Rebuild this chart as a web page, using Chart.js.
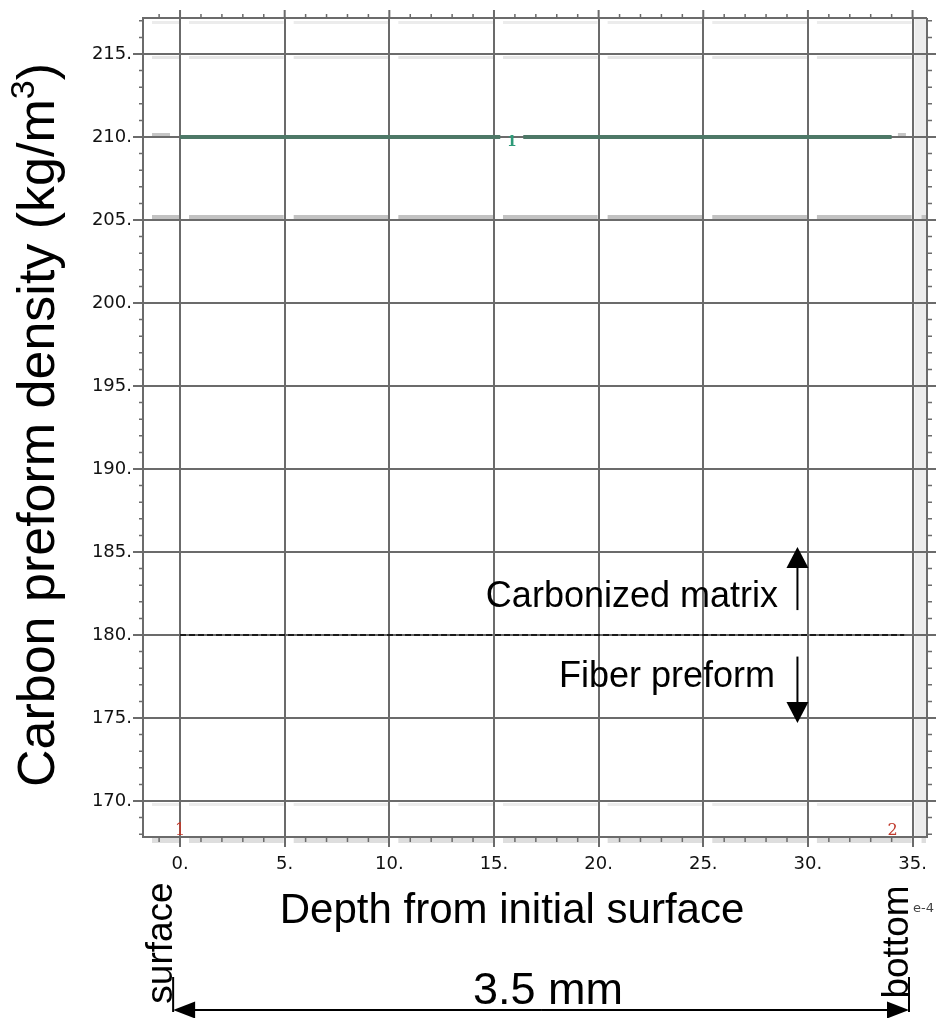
<!DOCTYPE html>
<html>
<head>
<meta charset="utf-8">
<script src="https://cdn.jsdelivr.net/npm/chart.js@4/dist/chart.umd.min.js"></script>
<style>
  html, body { margin: 0; padding: 0; background: #fff; }
  canvas { display: block; }
</style>
</head>
<body>
<canvas id="grafica" width="936" height="1018"></canvas>
<script>
/* ---------- Datos ---------- */
const depth = [0, 15.3, 15.8, 16.4, 34];        // profundidad (x 1e-4 m)
const density = [210, 210, null, 210, 210];     // densidad de la preforma (kg/m3); hueco en la etiqueta "1"
const limitDepth = [0, 34.6];
const limitDensity = [180, 180];                // frontera matriz carbonizada / preforma
const xTicks = [0, 5, 10, 15, 20, 25, 30, 35];
const yTicks = [170, 175, 180, 185, 190, 195, 200, 205, 210, 215];
const probeLabels = ['1', '2'];
const probeDepth = [0, 34.05];
const probeDensity = [168.2, 168.2];
const curveLabels = ['1'];
const curveLabelDepth = [15.86];
const curveLabelDensity = [209.7];

const X_MIN = -1.77, X_MAX = 35.69;
const Y_MIN = 167.83, Y_MAX = 217.17;

// anotaciones (en coordenadas de datos)
const arrowDepth = 29.5;
const upArrow = [181.5, 185.3];
const downArrow = [178.7, 174.7];
const zoneLabels = ['Carbonized matrix', 'Fiber preform'];
const zoneLabelDepth = [28.57, 28.43];
const zoneLabelDensity = [181.69, 176.87];
const spanStart = -0.33, spanEnd = 34.83;

const GRID = '#6b6b6b';
const SANS = '"Liberation Sans", Arial, sans-serif';

function flecha(ctx, x1, y1, x2, y2, largo, semi) {
  const ang = Math.atan2(y2 - y1, x2 - x1);
  ctx.beginPath();
  ctx.moveTo(x1, y1);
  ctx.lineTo(x2 - Math.cos(ang) * largo * 0.8, y2 - Math.sin(ang) * largo * 0.8);
  ctx.stroke();
  ctx.beginPath();
  ctx.moveTo(x2, y2);
  ctx.lineTo(x2 - Math.cos(ang) * largo - Math.sin(ang) * semi, y2 - Math.sin(ang) * largo + Math.cos(ang) * semi);
  ctx.lineTo(x2 - Math.cos(ang) * largo + Math.sin(ang) * semi, y2 - Math.sin(ang) * largo - Math.cos(ang) * semi);
  ctx.closePath();
  ctx.fill();
}

/* ---------- Plugin: bandas grises, marcas menores y textos ---------- */
const decor = {
  id: 'decor',
  beforeDraw(chart) {
    const { ctx, chartArea: a, scales: { x, y } } = chart;
    ctx.save();
    // franja clara entre la linea de 35 y el borde derecho
    const x35 = x.getPixelForValue(35);
    ctx.fillStyle = '#ececec';
    ctx.fillRect(x35 + 2, a.top, a.right - x35 - 3, a.bottom - a.top);
    // bandas horizontales (sombra de la rejilla)
    const cols = [a.left, ...xTicks.map(v => x.getPixelForValue(v)), a.right];
    const banda = (py, h, color) => {
      ctx.fillStyle = color;
      for (let i = 0; i < cols.length - 1; i++) {
        const s = cols[i] + 9, e = cols[i + 1] - 1;
        if (e > s) ctx.fillRect(s, py, e - s, h);
      }
    };
    banda(y.getPixelForValue(205) - 5, 4, '#c2c2c2');
    banda(y.getPixelForValue(215) + 2, 3, '#e6e6e6');
    banda(a.top + 3, 3, '#ececec');
    banda(y.getPixelForValue(170) + 2, 3, '#ececec');
    banda(a.bottom + 1, 5, '#dedede');
    ctx.fillStyle = '#c6c6c6';
    const y210 = y.getPixelForValue(210);
    ctx.fillRect(a.left + 9, y210 - 4, 18, 4);
    ctx.fillRect(x.getPixelForValue(34.3), y210 - 4, 8, 4);
    ctx.restore();
  },
  beforeDatasetsDraw(chart) {
    const { ctx, chartArea: a, scales: { x, y } } = chart;
    ctx.save();
    ctx.strokeStyle = GRID;
    ctx.lineWidth = 2;
    // bordes superior y derecho
    ctx.beginPath();
    ctx.moveTo(a.left, a.top); ctx.lineTo(a.right, a.top);
    ctx.moveTo(a.right, a.top); ctx.lineTo(a.right, a.bottom);
    ctx.stroke();
    // extension de las lineas mayores fuera del area
    ctx.beginPath();
    xTicks.forEach(v => { const px = x.getPixelForValue(v); ctx.moveTo(px, a.top - 8); ctx.lineTo(px, a.top); });
    yTicks.forEach(v => { const py = y.getPixelForValue(v); ctx.moveTo(a.right, py); ctx.lineTo(a.right + 9, py); });
    ctx.stroke();
    // marcas menores cada unidad
    ctx.lineWidth = 1.5;
    ctx.beginPath();
    for (let v = Math.ceil(X_MIN); v <= Math.floor(X_MAX); v++) {
      if (v % 5 === 0) continue;
      const px = x.getPixelForValue(v);
      ctx.moveTo(px, a.top - 4); ctx.lineTo(px, a.top);
      ctx.moveTo(px, a.bottom); ctx.lineTo(px, a.bottom + 5);
    }
    for (let v = Math.ceil(Y_MIN); v <= Math.floor(Y_MAX); v++) {
      if (v % 5 === 0) continue;
      const py = y.getPixelForValue(v);
      ctx.moveTo(a.left - 4, py); ctx.lineTo(a.left, py);
      ctx.moveTo(a.right, py); ctx.lineTo(a.right + 5, py);
    }
    ctx.stroke();
    ctx.restore();
  },
  afterDraw(chart) {
    const { ctx, scales: { x, y } } = chart;
    ctx.save();

    // etiquetas numeradas
    ctx.font = '16px "DejaVu Serif", serif';
    ctx.textAlign = 'center';
    ctx.textBaseline = 'middle';
    ctx.fillStyle = '#c0392b';
    probeLabels.forEach((t, i) => ctx.fillText(t, x.getPixelForValue(probeDepth[i]), y.getPixelForValue(probeDensity[i])));
    ctx.font = 'bold 14px "DejaVu Serif", serif';
    ctx.fillStyle = '#2e9a78';
    curveLabels.forEach((t, i) => ctx.fillText(t, x.getPixelForValue(curveLabelDepth[i]), y.getPixelForValue(curveLabelDensity[i])));

    // flechas de zona
    ctx.strokeStyle = '#000';
    ctx.fillStyle = '#000';
    ctx.lineWidth = 2;
    const ax = x.getPixelForValue(arrowDepth);
    flecha(ctx, ax, y.getPixelForValue(upArrow[0]), ax, y.getPixelForValue(upArrow[1]), 21, 11);
    flecha(ctx, ax, y.getPixelForValue(downArrow[0]), ax, y.getPixelForValue(downArrow[1]), 21, 11);

    ctx.font = '36px ' + SANS;
    ctx.textAlign = 'right';
    ctx.textBaseline = 'alphabetic';
    zoneLabels.forEach((t, i) => ctx.fillText(t, x.getPixelForValue(zoneLabelDepth[i]), y.getPixelForValue(zoneLabelDensity[i])));

    // titulo eje Y con superindice
    ctx.save();
    ctx.translate(54, 425);
    ctx.rotate(-Math.PI / 2);
    const big = '52px ' + SANS, small = '34px ' + SANS;
    const p1 = 'Carbon preform density (kg/m', p2 = '3', p3 = ')';
    ctx.font = big; const w1 = ctx.measureText(p1).width, w3 = ctx.measureText(p3).width;
    ctx.font = small; const w2 = ctx.measureText(p2).width;
    let cx = -(w1 + w2 + w3) / 2;
    ctx.textAlign = 'left';
    ctx.font = big; ctx.fillText(p1, cx, 0); cx += w1;
    ctx.font = small; ctx.fillText(p2, cx, -20); cx += w2;
    ctx.font = big; ctx.fillText(p3, cx, 0);
    ctx.restore();

    // titulo eje X
    ctx.font = '42px ' + SANS;
    ctx.textAlign = 'center';
    ctx.fillText('Depth from initial surface', 512, 923);

    // escala "e-4"
    ctx.font = '13px "DejaVu Sans", sans-serif';
    ctx.fillStyle = '#444';
    ctx.textAlign = 'left';
    ctx.fillText('e-4', 913, 912);

    // superficie / fondo y cota de 3.5 mm
    ctx.fillStyle = '#000';
    const xs = x.getPixelForValue(spanStart), xe = x.getPixelForValue(spanEnd);
    ctx.font = '37px ' + SANS;
    [['surface', xs, 943], ['bottom', xe, 942]].forEach(([t, px, py]) => {
      ctx.save();
      ctx.translate(px - 1, py);
      ctx.rotate(-Math.PI / 2);
      ctx.textAlign = 'center';
      ctx.textBaseline = 'alphabetic';
      ctx.fillText(t, 0, 0);
      ctx.restore();
    });
    ctx.lineWidth = 2;
    ctx.beginPath();
    ctx.moveTo(xs, 977); ctx.lineTo(xs, 1012);
    ctx.moveTo(xe, 977); ctx.lineTo(xe, 1012);
    ctx.stroke();
    const mid = (xs + xe) / 2;
    flecha(ctx, mid, 1010, xs, 1010, 22, 8.5);
    flecha(ctx, mid, 1010, xe, 1010, 22, 8.5);
    ctx.font = '45px ' + SANS;
    ctx.textAlign = 'center';
    ctx.fillText('3.5 mm', 548, 1004);

    ctx.restore();
  }
};

const ctx = document.getElementById('grafica');
new Chart(ctx, {
  type: 'scatter',
  data: {
    datasets: [
      {
        label: 'Densidad',
        data: depth.map((d, i) => ({ x: d, y: density[i] })),
        showLine: true, spanGaps: false, borderColor: '#4d7867', borderWidth: 4,
        pointRadius: 0, fill: false, tension: 0,
      },
      {
        label: 'Frontera',
        data: limitDepth.map((d, i) => ({ x: d, y: limitDensity[i] })),
        showLine: true, borderColor: '#000', borderWidth: 1.5, borderDash: [6, 3],
        pointRadius: 0, fill: false, tension: 0,
      },
    ],
  },
  options: {
    responsive: false,
    animation: false,
    events: [],
    layout: { padding: { top: 18, right: 9, left: 0, bottom: 0 } },
    plugins: { legend: { display: false }, tooltip: { enabled: false } },
    scales: {
      x: {
        type: 'linear', min: X_MIN, max: X_MAX,
        afterBuildTicks: s => { s.ticks = xTicks.map(v => ({ value: v })); },
        afterFit: s => { s.height = 181; },
        ticks: {
          callback: v => v + '.', autoSkip: false, maxRotation: 0, padding: 7,
          color: '#111', font: { family: '"DejaVu Sans", sans-serif', size: 18 },
        },
        grid: { color: GRID, lineWidth: 2, drawTicks: true, tickLength: 10, tickColor: GRID },
        border: { display: true, color: GRID, width: 2 },
      },
      y: {
        type: 'linear', min: Y_MIN, max: Y_MAX,
        afterBuildTicks: s => { s.ticks = yTicks.map(v => ({ value: v })); },
        afterFit: s => { s.width = 143; },
        ticks: {
          callback: v => v + '.', autoSkip: false, padding: 1,
          color: '#111', font: { family: '"DejaVu Sans", sans-serif', size: 18 },
        },
        grid: { color: GRID, lineWidth: 2, drawTicks: true, tickLength: 10, tickColor: GRID },
        border: { display: true, color: GRID, width: 2 },
      },
    },
  },
  plugins: [decor],
});
</script>
</body>
</html>
